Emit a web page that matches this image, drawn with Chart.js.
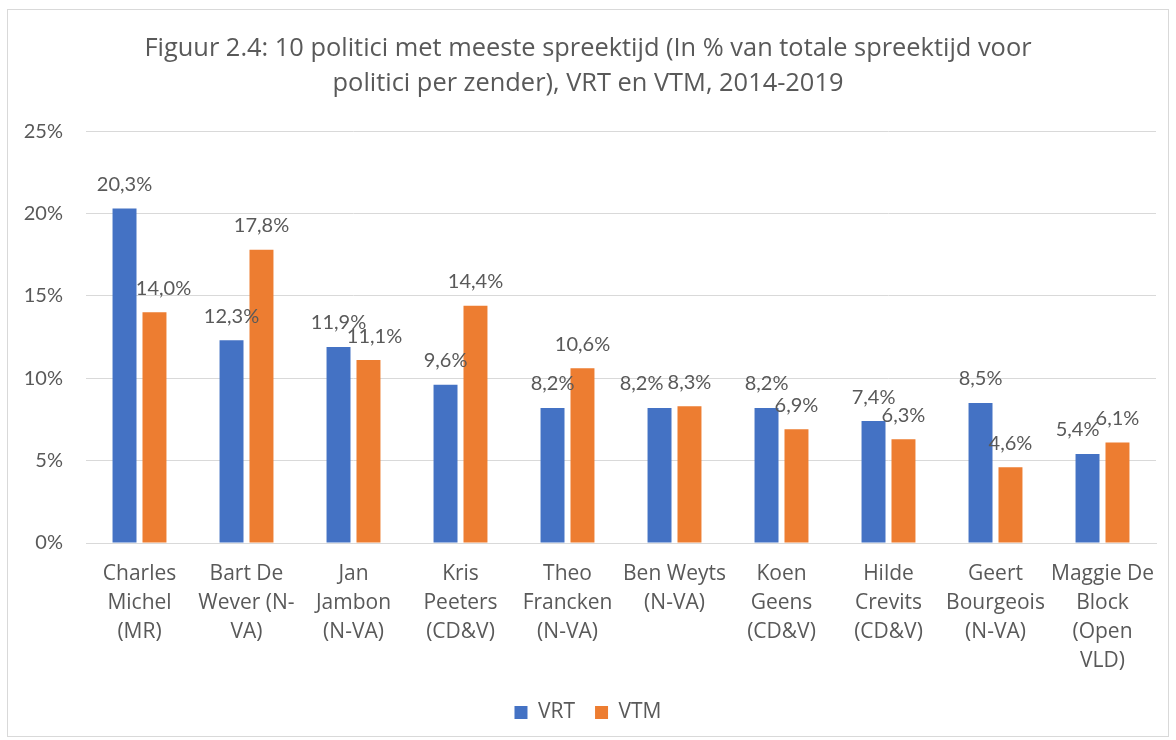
<!DOCTYPE html>
<html>
<head>
<meta charset="utf-8">
<script src="https://cdn.jsdelivr.net/npm/chart.js@4.4.1/dist/chart.umd.min.js"></script>
<style>
  html, body { margin: 0; padding: 0; background: #ffffff; }
  #wrap { position: relative; width: 1176px; height: 740px; }
  #frame { position: absolute; left: 7px; top: 9px; width: 1162px; height: 728px; border: 1px solid #d9d9d9; box-sizing: border-box; pointer-events: none; }
  canvas { position: absolute; left: 0; top: 0; }
</style>
</head>
<body>
<div id="wrap">
  <canvas id="c" width="1176" height="740"></canvas>
  <div id="frame"></div>
</div>
<script>
// ---- data ----
const categories = [
  ['Charles', 'Michel', '(MR)'],
  ['Bart De', 'Wever (N-', 'VA)'],
  ['Jan', 'Jambon', '(N-VA)'],
  ['Kris', 'Peeters', '(CD&V)'],
  ['Theo', 'Francken', '(N-VA)'],
  ['Ben Weyts', '(N-VA)'],
  ['Koen', 'Geens', '(CD&V)'],
  ['Hilde', 'Crevits', '(CD&V)'],
  ['Geert', 'Bourgeois', '(N-VA)'],
  ['Maggie De', 'Block', '(Open', 'VLD)']
];
const seriesNames = ['VRT', 'VTM'];
const vrtValues = [20.3, 12.3, 11.9, 9.6, 8.2, 8.2, 8.2, 7.4, 8.5, 5.4];
const vtmValues = [14.0, 17.8, 11.1, 14.4, 10.6, 8.3, 6.9, 6.3, 4.6, 6.1];
const yTickValues = [0, 5, 10, 15, 20, 25];
const titleLines = [
  'Figuur 2.4: 10 politici met meeste spreektijd (In % van totale spreektijd voor',
  'politici per zender), VRT en VTM, 2014-2019'
];

// label horizontal nudges (px), like Excel's overlap avoidance
const labelNudge = [
  [0, 0, 0, 0, 0, -18, 0, 0, 0, -10],
  [9, 0, 6, 0, 0, 0, 0, 0, 0, 0]
];

const TXT = '#595959';
const WORD_FONT = '"Open Sans", Lato, sans-serif';
const NUM_FONT = 'Lato, "Open Sans", sans-serif';

const fmt = v => v.toFixed(1).replace('.', ',') + '%';

const dataLabels = {
  id: 'dataLabels',
  afterDatasetsDraw(chart) {
    const ctx = chart.ctx;
    ctx.save();
    ctx.font = '20px ' + NUM_FONT;
    ctx.fillStyle = TXT;
    ctx.textAlign = 'center';
    ctx.textBaseline = 'middle';
    chart.data.datasets.forEach((ds, i) => {
      const meta = chart.getDatasetMeta(i);
      meta.data.forEach((bar, j) => {
        ctx.fillText(fmt(ds.data[j]), bar.x + labelNudge[i][j], bar.y - 24);
      });
    });
    ctx.restore();
  }
};

new Chart(document.getElementById('c'), {
  type: 'bar',
  data: {
    labels: categories,
    datasets: [
      { label: seriesNames[0], data: vrtValues, backgroundColor: '#4472C4', borderWidth: 0 },
      { label: seriesNames[1], data: vtmValues, backgroundColor: '#ED7D31', borderWidth: 0 }
    ]
  },
  options: {
    responsive: false,
    animation: false,
    devicePixelRatio: 1,
    categoryPercentage: 0.56,
    barPercentage: 0.8,
    layout: { padding: { left: 20, right: 20, top: 0, bottom: 7 } },
    plugins: {
      title: {
        display: true,
        text: titleLines,
        color: TXT,
        font: { family: WORD_FONT, size: 25.4, weight: 'normal', lineHeight: 1.38 },
        padding: { top: 31, bottom: 30 }
      },
      legend: {
        position: 'bottom',
        labels: {
          color: TXT,
          font: { family: WORD_FONT, size: 21 },
          boxWidth: 13,
          boxHeight: 13,
          padding: 20
        }
      },
      tooltip: { enabled: false }
    },
    scales: {
      x: {
        afterFit(scale) { scale.height = 139; },
        grid: { display: false, drawTicks: false },
        border: { display: true, color: '#d9d9d9', width: 1 },
        ticks: {
          color: TXT,
          font: { family: WORD_FONT, size: 21, lineHeight: 1.38 },
          padding: 17,
          maxRotation: 0,
          autoSkip: false
        }
      },
      y: {
        min: 0,
        max: 25,
        afterBuildTicks(scale) { scale.ticks = yTickValues.map(v => ({ value: v })); },
        afterFit(scale) { scale.width = 66; },
        grid: { color: '#d9d9d9', lineWidth: 1, drawTicks: false },
        border: { display: false },
        ticks: {
          color: TXT,
          font: { family: NUM_FONT, size: 20 },
          padding: 23,
          callback: v => v + '%'
        }
      }
    }
  },
  plugins: [dataLabels]
});
</script>
</body>
</html>
